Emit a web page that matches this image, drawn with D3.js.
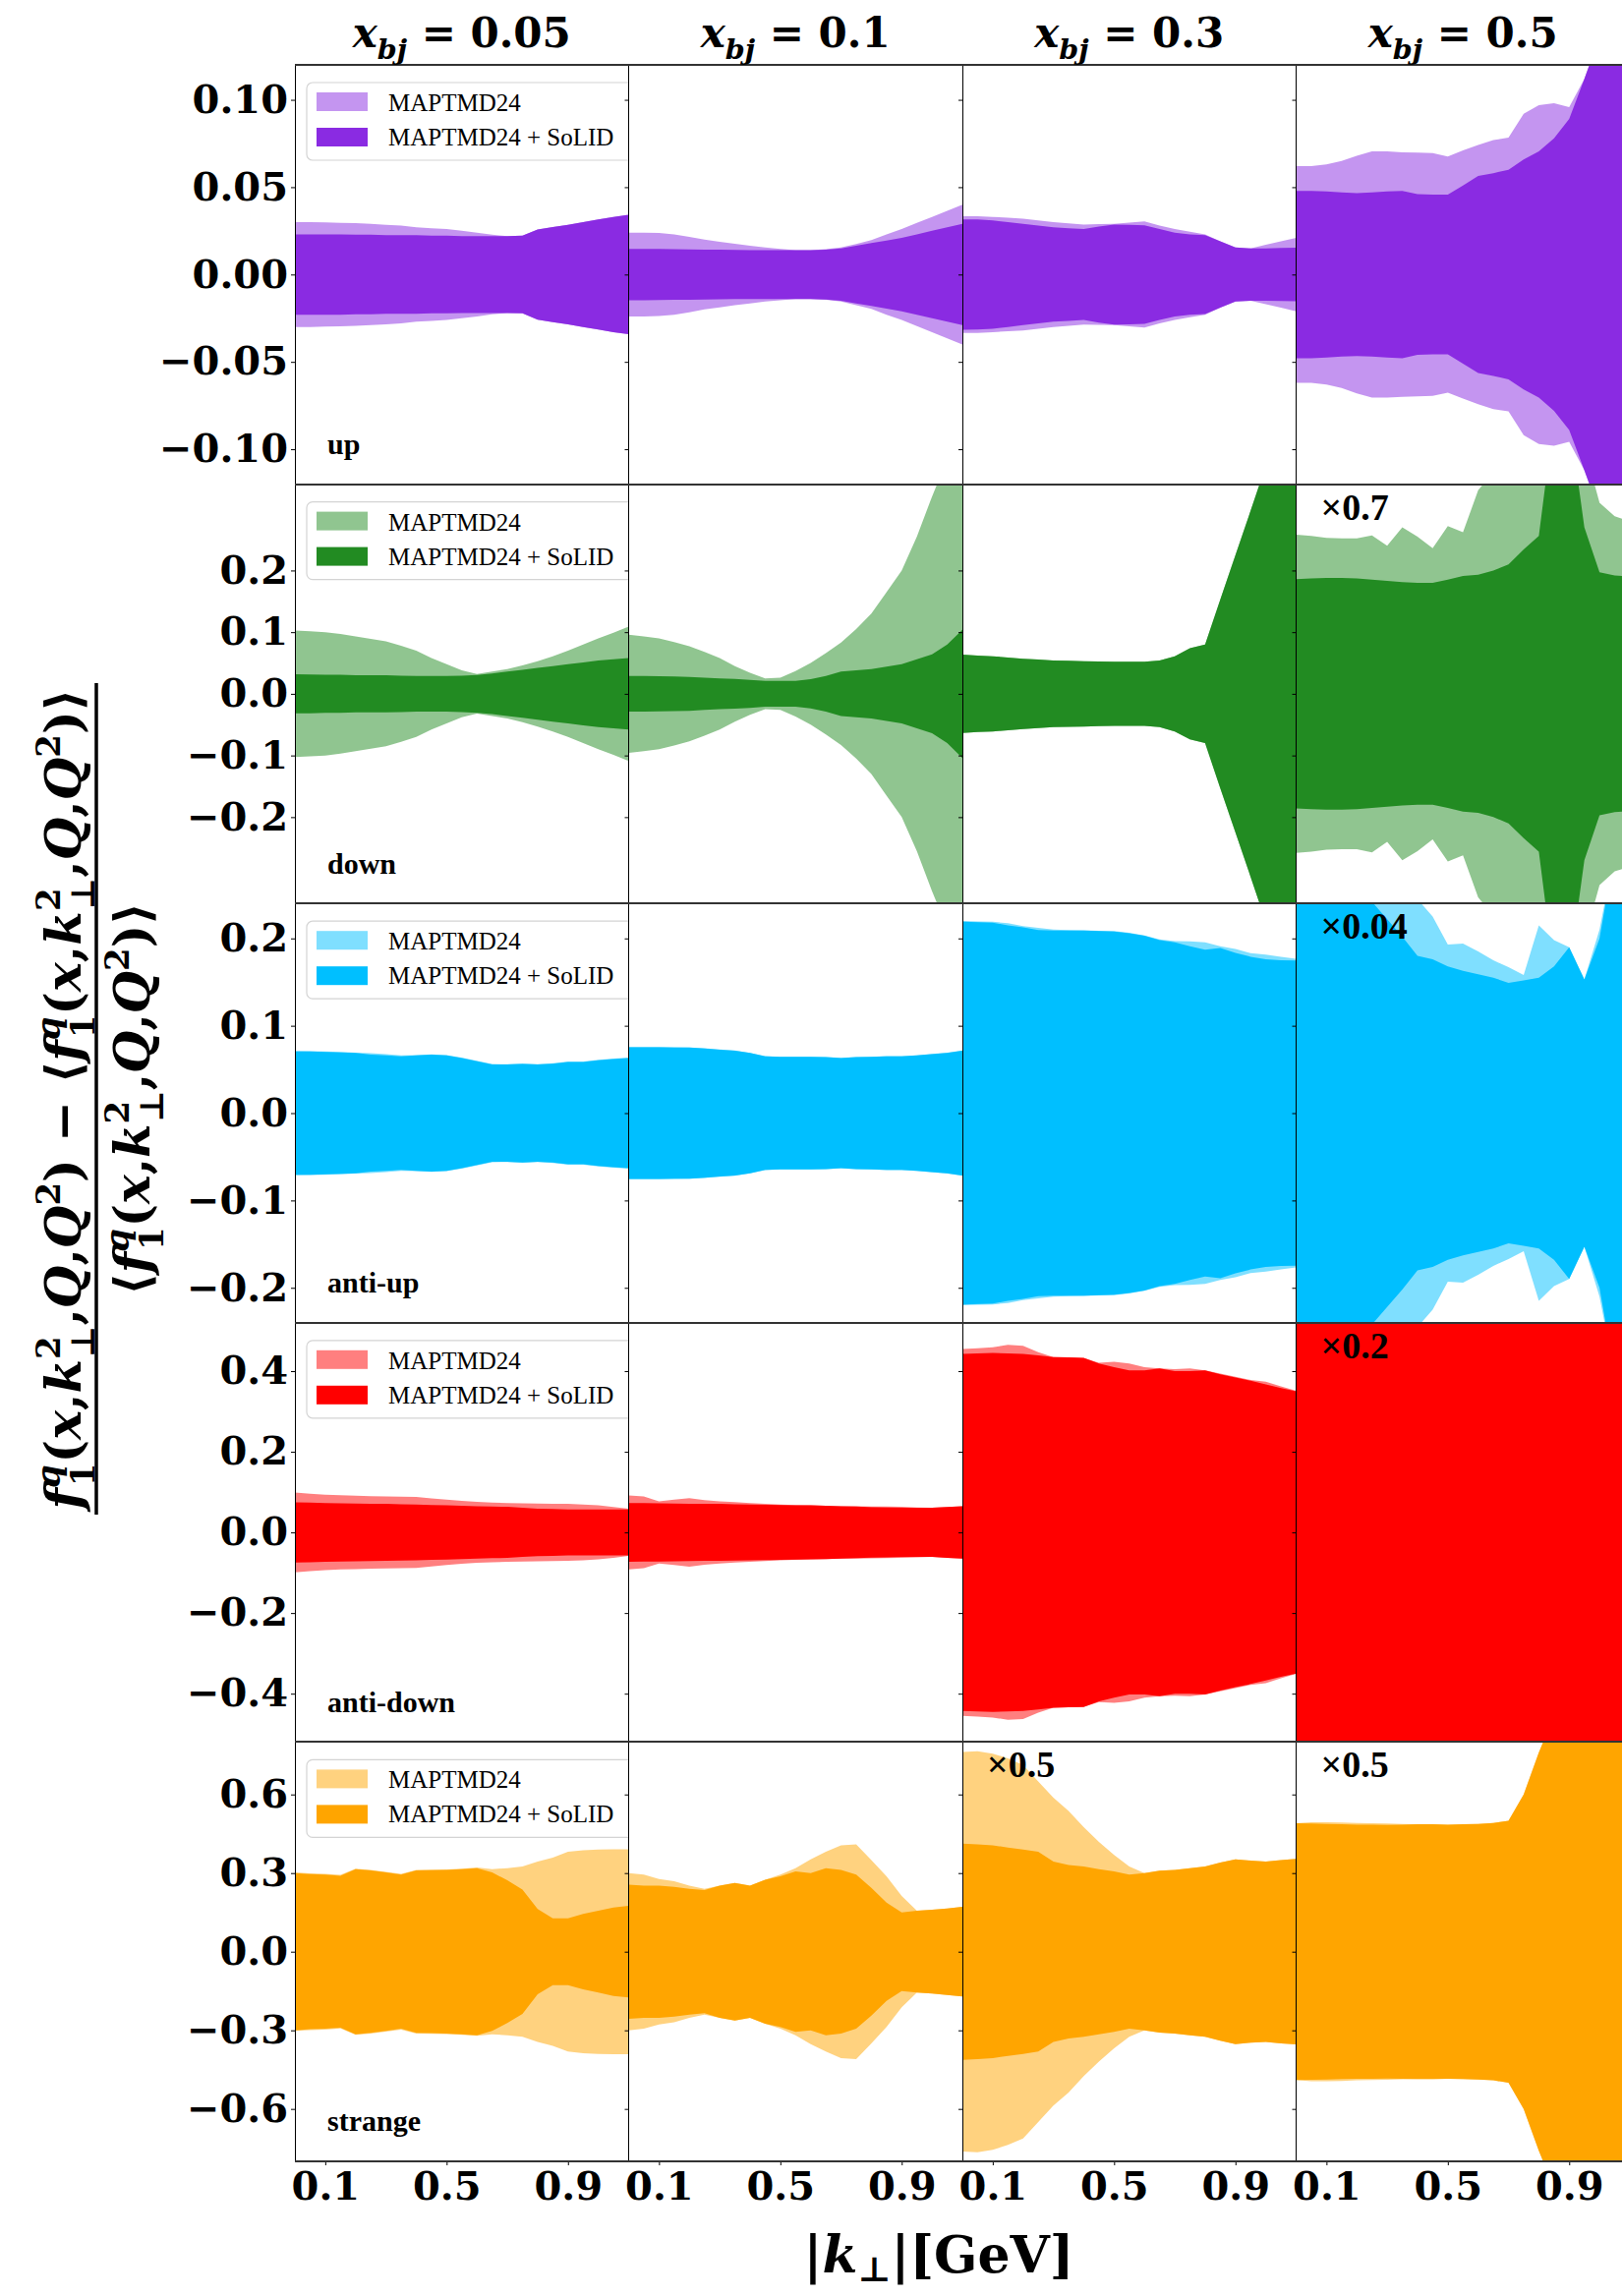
<!DOCTYPE html>
<html>
<head>
<meta charset="utf-8">
<style>
  body { margin: 0; background: #fff; }
  svg { display: block; }
</style>
</head>
<body>
<svg width="1650" height="2336"></svg>
<script src="https://d3js.org/d3.v7.min.js"></script>
<script>
  // |k_T| grid in GeV, shared by every panel
  var kt = [0, 0.05, 0.1, 0.15, 0.2, 0.25, 0.3, 0.35, 0.4, 0.45, 0.5, 0.55,
            0.6, 0.65, 0.7, 0.75, 0.8, 0.85, 0.9, 0.95, 1.0, 1.05, 1.1];

  var xbj = ["0.05", "0.1", "0.3", "0.5"];
  var flavours = ["up", "down", "anti-up", "anti-down", "strange"];
  var yLimits = [0.12, 0.34, 0.24, 0.52, 0.8];
  var yTicks = [
    [-0.10, -0.05, 0, 0.05, 0.10],
    [-0.2, -0.1, 0, 0.1, 0.2],
    [-0.2, -0.1, 0, 0.1, 0.2],
    [-0.4, -0.2, 0, 0.2, 0.4],
    [-0.6, -0.3, 0, 0.3, 0.6]
  ];
  var yFormats = [".2f", ".1f", ".1f", ".1f", ".1f"];
  var xTicks = [0.1, 0.5, 0.9];
  var colors = ["#8a2be2", "#228b22", "#00bfff", "#ff0000", "#ffa500"];
  var seriesNames = ["MAPTMD24", "MAPTMD24 + SoLID"];
  // [row, column, text]
  var scaleNotes = [[1, 3, "×0.7"], [2, 3, "×0.04"], [3, 3, "×0.2"], [4, 2, "×0.5"], [4, 3, "×0.5"]];

  // half widths of the relative bands, one list per x_bj column
  var upMap = [
    [0.030,0.030,0.0298,0.0296,0.0294,0.029,0.0285,0.028,0.027,0.0265,0.026,0.025,0.024,0.0228,0.022,0.0222,0.0258,0.0272,0.0285,0.030,0.0315,0.033,0.0342],
    [0.024,0.024,0.0238,0.023,0.0216,0.020,0.0188,0.0176,0.0165,0.0155,0.0147,0.014,0.014,0.0145,0.0155,0.0175,0.0197,0.023,0.026,0.0295,0.033,0.0365,0.040],
    [0.0334,0.0334,0.033,0.0325,0.032,0.031,0.030,0.0293,0.0286,0.0288,0.029,0.0297,0.0304,0.028,0.026,0.0245,0.023,0.019,0.0155,0.015,0.017,0.019,0.021],
    [0.062,0.062,0.063,0.065,0.068,0.0705,0.0705,0.070,0.0698,0.0695,0.0676,0.071,0.0742,0.077,0.0783,0.092,0.097,0.098,0.0958,0.112,0.136,0.16,0.183]
  ];
  var upSolid = [
    [0.023,0.023,0.023,0.023,0.0228,0.0228,0.0225,0.0225,0.0225,0.0222,0.0222,0.022,0.022,0.022,0.022,0.0222,0.0258,0.0272,0.0285,0.030,0.0315,0.033,0.0342],
    [0.0147,0.0147,0.0146,0.0145,0.0144,0.0143,0.0142,0.0141,0.014,0.014,0.014,0.014,0.014,0.0143,0.015,0.0165,0.018,0.0195,0.021,0.023,0.025,0.027,0.029],
    [0.0316,0.0315,0.031,0.030,0.029,0.028,0.027,0.0265,0.026,0.0275,0.0286,0.0285,0.0282,0.026,0.024,0.023,0.0226,0.019,0.0155,0.015,0.015,0.0152,0.0153],
    [0.0479,0.0479,0.0475,0.047,0.0466,0.047,0.0475,0.0479,0.046,0.0457,0.0457,0.051,0.0564,0.058,0.060,0.0658,0.0705,0.078,0.089,0.112,0.136,0.16,0.183]
  ];
  var downMap = [
    [0.1027,0.1015,0.100,0.097,0.093,0.089,0.085,0.078,0.070,0.058,0.048,0.038,0.032,0.036,0.040,0.046,0.053,0.061,0.070,0.080,0.090,0.099,0.109],
    [0.0957,0.093,0.090,0.084,0.077,0.068,0.058,0.045,0.034,0.025,0.026,0.037,0.050,0.066,0.083,0.105,0.130,0.165,0.200,0.255,0.320,0.380,0.450],
    [0.0637,0.062,0.061,0.059,0.057,0.0555,0.054,0.0535,0.053,0.0525,0.052,0.052,0.052,0.054,0.061,0.074,0.080,0.153,0.225,0.297,0.370,0.440,0.510],
    [0.258,0.256,0.253,0.252,0.252,0.257,0.240,0.270,0.255,0.236,0.272,0.262,0.330,0.360,0.400,0.400,0.400,0.450,0.450,0.400,0.310,0.288,0.280]
  ];
  var downSolid = [
    [0.0317,0.0315,0.031,0.031,0.030,0.030,0.030,0.0295,0.029,0.029,0.029,0.0295,0.0307,0.033,0.036,0.039,0.042,0.045,0.048,0.051,0.054,0.056,0.058],
    [0.029,0.029,0.0285,0.028,0.0275,0.026,0.025,0.024,0.0227,0.021,0.021,0.021,0.0237,0.029,0.036,0.038,0.040,0.044,0.048,0.056,0.064,0.080,0.104],
    [0.0637,0.062,0.061,0.059,0.057,0.0555,0.054,0.0535,0.053,0.0525,0.052,0.052,0.052,0.054,0.061,0.074,0.080,0.153,0.225,0.297,0.370,0.440,0.510],
    [0.186,0.187,0.188,0.188,0.187,0.185,0.183,0.181,0.180,0.180,0.185,0.191,0.193,0.200,0.210,0.234,0.256,0.450,0.450,0.270,0.197,0.192,0.190]
  ];
  var antiUpMap = [
    [0.0712,0.071,0.0705,0.070,0.0693,0.0685,0.0675,0.066,0.0665,0.0672,0.0665,0.0635,0.060,0.0562,0.056,0.0568,0.056,0.057,0.059,0.059,0.061,0.0625,0.0635],
    [0.0758,0.0758,0.0757,0.0755,0.0752,0.0742,0.0728,0.0716,0.069,0.0652,0.0645,0.0645,0.0645,0.0642,0.0632,0.0642,0.0645,0.0652,0.0652,0.0662,0.0678,0.0692,0.0716],
    [0.220,0.2195,0.219,0.2175,0.214,0.212,0.210,0.2095,0.2092,0.2088,0.2083,0.2065,0.2035,0.199,0.197,0.1965,0.1954,0.191,0.188,0.183,0.1815,0.179,0.1766],
    [0.30,0.30,0.30,0.30,0.30,0.30,0.30,0.27,0.245,0.225,0.193,0.194,0.185,0.175,0.167,0.158,0.215,0.198,0.190,0.153,0.210,0.300,0.300]
  ];
  var antiUpSolid = [
    [0.0707,0.0705,0.070,0.0695,0.0688,0.067,0.066,0.065,0.066,0.067,0.066,0.063,0.0594,0.0556,0.0556,0.0564,0.0556,0.0565,0.0586,0.0586,0.0605,0.062,0.063],
    [0.0755,0.0755,0.0755,0.0752,0.075,0.074,0.0725,0.0714,0.0688,0.065,0.0643,0.0643,0.0643,0.064,0.063,0.064,0.0643,0.065,0.065,0.066,0.0676,0.069,0.0714],
    [0.219,0.2185,0.218,0.215,0.2127,0.2097,0.209,0.209,0.209,0.2085,0.208,0.206,0.203,0.198,0.1954,0.191,0.187,0.189,0.1834,0.179,0.176,0.175,0.1747],
    [0.30,0.30,0.30,0.30,0.262,0.242,0.222,0.202,0.180,0.176,0.168,0.163,0.159,0.155,0.149,0.152,0.155,0.168,0.190,0.153,0.200,0.300,0.300]
  ];
  var antiDownMap = [
    [0.099,0.096,0.0935,0.092,0.091,0.090,0.0894,0.0888,0.088,0.0845,0.081,0.078,0.0756,0.074,0.073,0.072,0.0715,0.071,0.0707,0.069,0.067,0.063,0.0585],
    [0.0919,0.089,0.077,0.081,0.085,0.080,0.077,0.075,0.073,0.071,0.069,0.068,0.067,0.066,0.065,0.065,0.0645,0.064,0.0634,0.062,0.061,0.063,0.065],
    [0.455,0.457,0.459,0.465,0.463,0.447,0.435,0.434,0.4325,0.421,0.423,0.419,0.410,0.4065,0.405,0.4065,0.402,0.394,0.386,0.378,0.374,0.362,0.351],
    [0.6,0.6,0.6,0.6,0.6,0.6,0.6,0.6,0.6,0.6,0.6,0.6,0.6,0.6,0.6,0.6,0.6,0.6,0.6,0.6,0.6,0.6,0.6]
  ];
  var antiDownSolid = [
    [0.0748,0.074,0.073,0.072,0.0715,0.071,0.0707,0.070,0.069,0.068,0.0675,0.066,0.065,0.064,0.0634,0.061,0.059,0.058,0.057,0.057,0.057,0.057,0.057],
    [0.073,0.0725,0.072,0.0715,0.071,0.0707,0.0707,0.070,0.069,0.0685,0.068,0.0675,0.067,0.066,0.065,0.064,0.0626,0.062,0.061,0.061,0.061,0.063,0.065],
    [0.443,0.444,0.445,0.444,0.443,0.439,0.435,0.434,0.433,0.419,0.410,0.402,0.402,0.4065,0.400,0.400,0.402,0.392,0.384,0.376,0.367,0.358,0.350],
    [0.6,0.6,0.6,0.6,0.6,0.6,0.6,0.6,0.6,0.6,0.6,0.6,0.6,0.6,0.6,0.6,0.6,0.6,0.6,0.6,0.6,0.6,0.6]
  ];
  var strangeMap = [
    [0.3025,0.299,0.297,0.293,0.317,0.312,0.305,0.297,0.312,0.313,0.314,0.317,0.321,0.315,0.319,0.325,0.344,0.359,0.381,0.3875,0.390,0.391,0.391],
    [0.300,0.294,0.2775,0.269,0.2525,0.240,0.2525,0.2625,0.2525,0.275,0.294,0.319,0.3525,0.381,0.406,0.410,0.350,0.2875,0.2125,0.156,0.160,0.165,0.171],
    [0.7625,0.765,0.756,0.7375,0.7125,0.650,0.5875,0.5375,0.475,0.419,0.369,0.325,0.300,0.309,0.3125,0.319,0.325,0.340,0.3525,0.3475,0.344,0.350,0.354],
    [0.490,0.494,0.494,0.493,0.491,0.490,0.489,0.487,0.486,0.486,0.485,0.486,0.4875,0.491,0.500,0.600,0.760,0.900,1.000,1.100,1.200,1.300,1.400]
  ];
  var strangeSolid = [
    [0.300,0.296,0.294,0.290,0.315,0.310,0.3025,0.294,0.310,0.311,0.3125,0.315,0.319,0.3025,0.2725,0.2375,0.1625,0.1275,0.1275,0.144,0.156,0.169,0.175],
    [0.256,0.2525,0.2525,0.2475,0.240,0.235,0.2525,0.2625,0.2525,0.275,0.2875,0.306,0.300,0.319,0.3125,0.294,0.244,0.1875,0.150,0.156,0.160,0.165,0.171],
    [0.4125,0.410,0.406,0.3975,0.390,0.381,0.344,0.331,0.325,0.315,0.306,0.294,0.300,0.309,0.3125,0.319,0.325,0.340,0.3525,0.3475,0.344,0.350,0.354],
    [0.490,0.489,0.4875,0.486,0.485,0.485,0.484,0.485,0.486,0.486,0.485,0.486,0.4875,0.491,0.500,0.600,0.760,0.900,1.000,1.100,1.200,1.300,1.400]
  ];

  var mapBands = [upMap, downMap, antiUpMap, antiDownMap, strangeMap];
  var solidBands = [upSolid, downSolid, antiUpSolid, antiDownSolid, strangeSolid];

  var svg = d3.select("svg"),
      gridLeft = 300, gridTop = 66,
      panelW = 339.5, panelH = 426.6,
      nRows = flavours.length, nCols = xbj.length;

  var serif = "'Liberation Serif', 'Times New Roman', serif",
      mathFont = "'DejaVu Serif', serif";

  svg.append("rect").attr("width", 1650).attr("height", 2336).attr("fill", "#fff");

  var x = d3.scaleLinear().domain([0, 1.1]).range([0, panelW]);

  // write a little math string as tspans: [text, "b"|"sup"|"sub", italic, backspace]
  function mathText(text, tokens, size, subShift) {
    var cur = 0, sub = subShift || 0.28;
    tokens.forEach(function(t) {
      var target = t[1] == "sup" ? -0.42 * size : t[1] == "sub" ? sub * size : 0;
      var ts = text.append("tspan").text(t[0]).attr("dy", target - cur);
      cur = target;
      if (t[1] != "b") ts.attr("font-size", size * 0.68);
      if (t[2]) ts.attr("font-style", "italic");
      if (t[3]) ts.attr("dx", -t[3]);
    });
  }

  flavours.forEach(function(name, r) {
    var y = d3.scaleLinear().domain([-yLimits[r], yLimits[r]]).range([panelH, 0]);

    var band = d3.area()
      .x(function(d, i) { return x(kt[i]); })
      .y0(function(d) { return y(-d); })
      .y1(function(d) { return y(d); });

    xbj.forEach(function(xv, c) {
      var g = svg.append("g")
        .attr("transform", "translate(" + (gridLeft + c * panelW) + "," + (gridTop + r * panelH) + ")");

      var id = "clip-" + r + "-" + c;
      g.append("clipPath").attr("id", id)
        .append("rect").attr("width", panelW).attr("height", panelH);

      var body = g.append("g").attr("clip-path", "url(#" + id + ")");
      body.append("rect").attr("width", panelW).attr("height", panelH).attr("fill", "#fff");

      body.append("path")
        .datum(mapBands[r][c])
        .attr("d", band)
        .attr("fill", colors[r])
        .attr("fill-opacity", 0.5);

      body.append("path")
        .datum(solidBands[r][c])
        .attr("d", band)
        .attr("fill", colors[r]);

      // legend lives in the first column only
      if (c == 0) {
        var leg = body.append("g").attr("transform", "translate(12,18)");
        leg.append("rect")
          .attr("width", 345).attr("height", 79).attr("rx", 6)
          .attr("fill", "#fff").attr("fill-opacity", 0.8)
          .attr("stroke", "#d4d4d4").attr("stroke-width", 1.2);
        seriesNames.forEach(function(s, i) {
          leg.append("rect")
            .attr("x", 10).attr("y", 10 + i * 36)
            .attr("width", 52).attr("height", 19)
            .attr("fill", colors[r])
            .attr("fill-opacity", i == 0 ? 0.5 : 1);
          leg.append("text")
            .attr("x", 83).attr("y", 29 + i * 35)
            .attr("font-family", serif)
            .attr("font-size", 25)
            .text(s);
        });

        body.append("text")
          .attr("x", 33).attr("y", 396)
          .attr("font-family", serif)
          .attr("font-weight", "bold")
          .attr("font-size", 30)
          .text(name);
      }

      scaleNotes.forEach(function(n) {
        if (n[0] == r && n[1] == c) {
          body.append("text")
            .attr("x", 25).attr("y", 36)
            .attr("font-family", serif)
            .attr("font-weight", "bold")
            .attr("font-size", 38)
            .text(n[2]);
        }
      });

      // y ticks on every panel, labels on the first column
      var yAxis = d3.axisLeft(y).tickValues(yTicks[r]).tickSizeInner(4).tickSizeOuter(0)
        .tickFormat(c == 0 ? d3.format(yFormats[r]) : "");
      var ya = g.append("g").call(yAxis);
      ya.select(".domain").remove();
      ya.selectAll("text")
        .attr("x", -7)
        .attr("font-family", mathFont)
        .attr("font-weight", "bold")
        .attr("font-size", 40)
        .attr("fill", "#000");

      if (r == nRows - 1) {
        var xa = g.append("g")
          .attr("transform", "translate(0," + panelH + ")")
          .call(d3.axisBottom(x).tickValues(xTicks).tickSizeInner(4).tickSizeOuter(0)
            .tickFormat(d3.format(".1f")));
        xa.select(".domain").remove();
        xa.selectAll("text")
          .attr("y", 11)
          .attr("font-family", mathFont)
          .attr("font-weight", "bold")
          .attr("font-size", 40)
          .attr("fill", "#000");
      }
    });
  });

  // panel frames: thin verticals, slightly heavier row separators
  var frame = svg.append("g").attr("shape-rendering", "crispEdges");
  d3.range(nCols + 1).forEach(function(c) {
    frame.append("line")
      .attr("x1", gridLeft + c * panelW).attr("x2", gridLeft + c * panelW)
      .attr("y1", gridTop).attr("y2", gridTop + nRows * panelH)
      .attr("stroke", "#000").attr("stroke-width", 1);
  });
  d3.range(nRows + 1).forEach(function(r) {
    frame.append("line")
      .attr("x1", gridLeft).attr("x2", gridLeft + nCols * panelW)
      .attr("y1", gridTop + r * panelH).attr("y2", gridTop + r * panelH)
      .attr("stroke", "#333").attr("stroke-width", 2);
  });

  // column titles
  xbj.forEach(function(xv, c) {
    var t = svg.append("text")
      .attr("x", gridLeft + (c + 0.5) * panelW).attr("y", 48)
      .attr("text-anchor", "middle")
      .attr("font-family", mathFont)
      .attr("font-weight", "bold")
      .attr("font-size", 42);
    mathText(t, [["x", "b", 1], ["bj", "sub", 1], [" = " + xv, "b", 0]], 42);
  });

  // x axis title
  var xt = svg.append("text")
    .attr("x", 955).attr("y", 2312)
    .attr("text-anchor", "middle")
    .attr("font-family", mathFont)
    .attr("font-weight", "bold")
    .attr("font-size", 52);
  mathText(xt, [["|", "b", 0], ["k", "b", 1], ["⊥", "sub", 0], ["|[GeV]", "b", 0]], 52, 0.18);

  // y axis title: a rotated fraction
  var frac = [
    ["f", "b", 1], ["q", "sup", 1], ["1", "sub", 0, 22], ["(", "b", 0], ["x", "b", 1], [",", "b", 0],
    ["k", "b", 1], ["2", "sup", 0], ["⊥", "sub", 0, 22], [",", "b", 0], ["Q", "b", 1], [",", "b", 0],
    ["Q", "b", 1], ["2", "sup", 0], [")", "b", 0]
  ];
  var ylab = svg.append("g").attr("transform", "translate(0,1118) rotate(-90)");
  var num = ylab.append("text")
    .attr("x", 0).attr("y", 82)
    .attr("text-anchor", "middle")
    .attr("font-family", mathFont)
    .attr("font-weight", "bold")
    .attr("font-size", 50)
    .attr("textLength", 835)
    .attr("lengthAdjust", "spacingAndGlyphs");
  mathText(num, frac.concat([[" − ⟨", "b", 0]], frac, [["⟩", "b", 0]]), 50);

  var den = ylab.append("text")
    .attr("x", 0).attr("y", 152)
    .attr("text-anchor", "middle")
    .attr("font-family", mathFont)
    .attr("font-weight", "bold")
    .attr("font-size", 50)
    .attr("textLength", 400)
    .attr("lengthAdjust", "spacingAndGlyphs");
  mathText(den, [["⟨", "b", 0]].concat(frac, [["⟩", "b", 0]]), 50);

  ylab.append("line")
    .attr("x1", -423).attr("x2", 423)
    .attr("y1", 98).attr("y2", 98)
    .attr("stroke", "#000").attr("stroke-width", 3.5);
</script>
</body>
</html>
